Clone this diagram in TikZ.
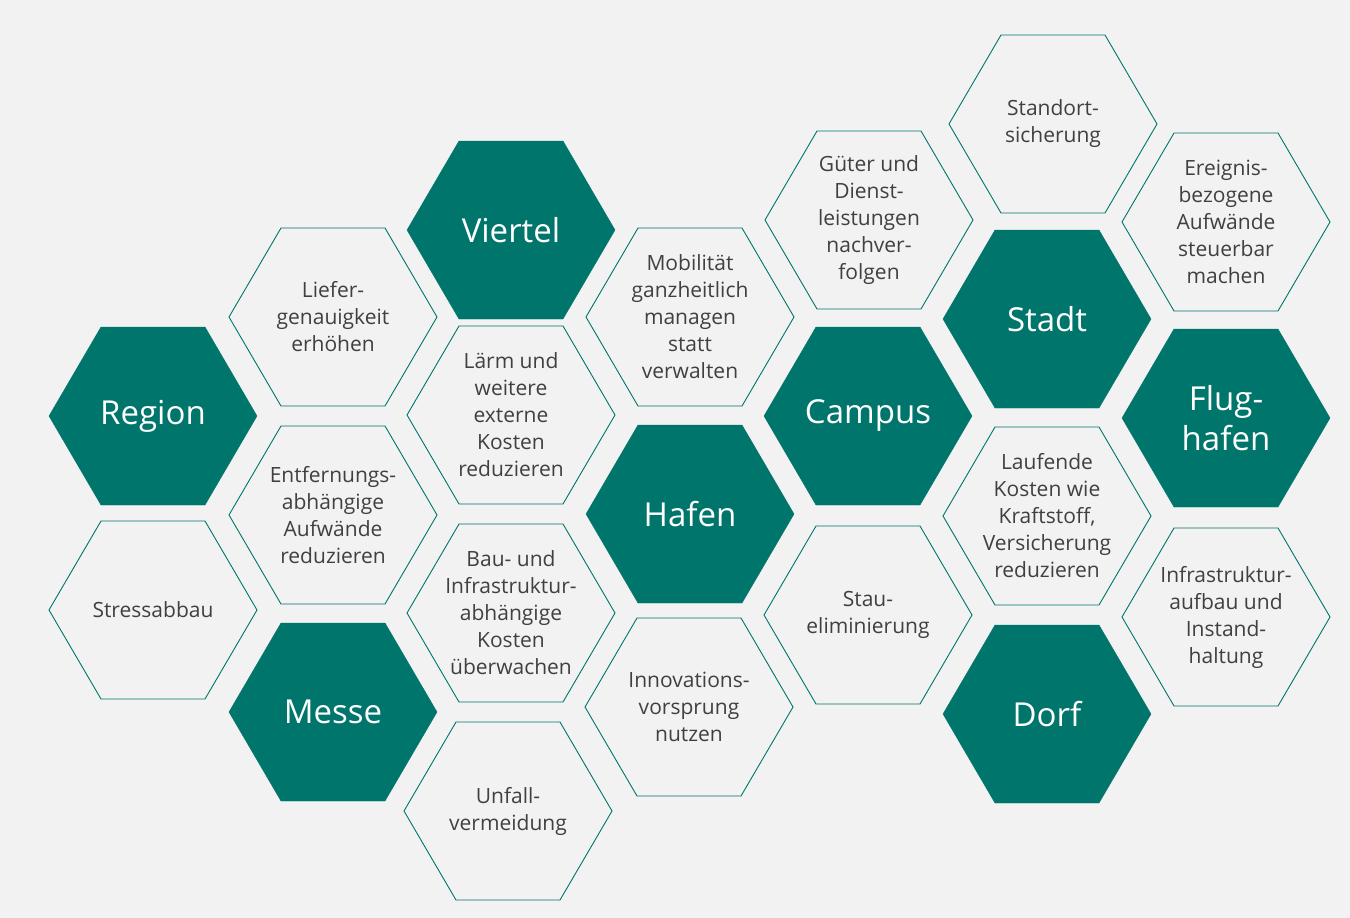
\documentclass[tikz,border=0pt]{standalone}
\usepackage{fontspec}
\setmainfont{Open Sans}
\definecolor{teal}{HTML}{00756B}
\definecolor{bg}{HTML}{F2F2F2}
\definecolor{txt}{HTML}{404040}
\tikzset{
 hexo/.style={draw=teal, line width=0.9pt, fill=bg},
 hexf/.style={fill=teal, draw=teal},
 lbo/.style={text=txt, align=center, font=\fontsize{21}{27}\selectfont},
 lbf/.style={text=white, align=center, font=\fontsize{33}{40}\selectfont},
}
\newcommand{\hexa}[5]{%
 \path[#4] (#2-104,#3) -- (#2-52,#3-89) -- (#2+52,#3-89) -- (#2+104,#3) -- (#2+52,#3+89) -- (#2-52,#3+89) -- cycle;
 \node[#5] (#1) at (#2,#3)}
\begin{document}
\begin{tikzpicture}[x=1pt,y=-1pt]
\fill[bg] (0,0) rectangle (1350,918);
\useasboundingbox (0,0) rectangle (1350,918);
\hexa{region}{153}{416}{hexf}{lbf}{Region};
\hexa{stress}{153}{610}{hexo}{lbo}{Stressabbau};
\hexa{liefer}{333}{317}{hexo}{lbo}{Liefer-\\genauigkeit\\erhöhen};
\hexa{entf}{333}{515}{hexo}{lbo}{Entfernungs-\\abhängige\\Aufwände\\reduzieren};
\hexa{messe}{333}{712}{hexf}{lbf}{Messe};
\hexa{viertel}{511}{230}{hexf}{lbf}{Viertel};
\hexa{laerm}{511}{415}{hexo}{lbo}{Lärm und\\weitere\\externe\\Kosten\\reduzieren};
\hexa{bau}{511}{613}{hexo}{lbo}{Bau- und\\Infrastruktur-\\abhängige\\Kosten\\überwachen};
\hexa{unfall}{508}{811}{hexo}{lbo}{Unfall-\\vermeidung};
\hexa{mob}{690}{317}{hexo}{lbo}{Mobilität\\ganzheitlich\\managen\\statt\\verwalten};
\hexa{hafen}{690}{514}{hexf}{lbf}{Hafen};
\hexa{innov}{689}{707}{hexo}{lbo}{Innovations-\\vorsprung\\nutzen};
\hexa{gueter}{869}{220}{hexo}{lbo}{Güter und\\Dienst-\\leistungen\\nachver-\\folgen};
\hexa{campus}{868}{416}{hexf}{lbf}{Campus};
\hexa{stau}{868}{615}{hexo}{lbo}{Stau-\\eliminierung};
\hexa{standort}{1053}{124}{hexo}{lbo}{Standort-\\sicherung};
\hexa{stadt}{1047}{319}{hexf}{lbf}{Stadt};
\hexa{lauf}{1047}{516}{hexo}{lbo}{Laufende\\Kosten wie\\Kraftstoff,\\Versicherung\\reduzieren};
\hexa{dorf}{1047}{714}{hexf}{lbf}{Dorf};
\hexa{ereig}{1226}{222}{hexo}{lbo}{Ereignis-\\bezogene\\Aufwände\\steuerbar\\machen};
\hexa{flug}{1226}{418}{hexf}{lbf}{Flug-\\hafen};
\hexa{infra}{1226}{617}{hexo}{lbo}{Infrastruktur-\\aufbau und\\Instand-\\haltung};
\end{tikzpicture}
\end{document}
